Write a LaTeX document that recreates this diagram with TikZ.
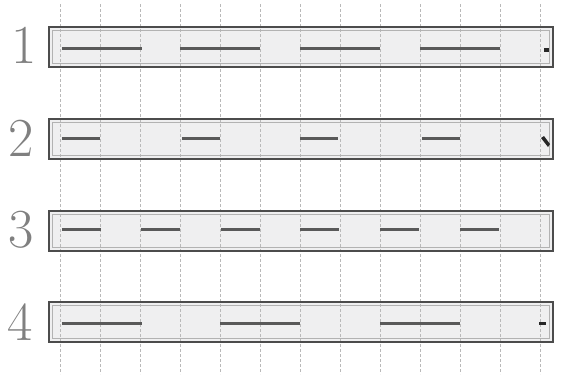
\documentclass[tikz,border=0pt]{standalone}
\begin{document}
\begin{tikzpicture}[x=1pt,y=-1pt,
  rowbox/.style={draw=black!70, line width=1.8pt, fill=blue!3!gray!12, minimum width=504pt, minimum height=40pt, inner sep=0pt, outer sep=0pt},
  innerline/.style={draw=black!30, line width=0.6pt},
  gridline/.style={draw=gray!55, line width=0.7pt, dash pattern=on 3pt off 2pt},
  dashbar/.style={draw=black!65, line width=3pt},
  rowlabel/.style={text=black!50, font=\fontsize{55}{55}\selectfont, inner sep=0pt},
  tick/.style={fill=black!85, draw=none}]
\useasboundingbox (0,0) rectangle (571,376);
% rows
\node[rowbox] (r1) at (301,47) {};
\node[rowbox] (r2) at (301,139) {};
\node[rowbox] (r3) at (301,231) {};
\node[rowbox] (r4) at (301,322) {};
% grid
\foreach \k in {0,...,12} {
  \draw[gridline] (60+40*\k,4) -- (60+40*\k,374);
}
% borders over the grid
\foreach \r in {r1,r2,r3,r4} {
  \draw[innerline] ([xshift=3.5pt,yshift=-3.5pt]\r.north west) rectangle ([xshift=-3.5pt,yshift=3.5pt]\r.south east);
  \draw[draw=black!70, line width=1.8pt] (\r.north west) rectangle (\r.south east);
}
% labels
\node[rowlabel] (l1) at (24,45) {1};
\node[rowlabel] (l2) at (21,138) {2};
\node[rowlabel] (l3) at (21,230) {3};
\node[rowlabel] (l4) at (20,322) {4};
% row 1 dashes
\foreach \a in {62,180,300,420} { \draw[dashbar] (\a,48) -- (\a+80,48); }
% row 2
\foreach \a in {62,182,300,422} { \draw[dashbar] (\a,138) -- (\a+38,138); }
% row 3
\foreach \a in {62,141,221,300,380,460} { \draw[dashbar] (\a,229) -- (\a+39,229); }
% row 4
\foreach \a in {62,220,380} { \draw[dashbar] (\a,323) -- (\a+80,323); }
% small marks
\fill[tick] (544,48) rectangle (549,52);
\fill[tick] (541,138) -- (544,136) -- (550,144) -- (548,147) -- cycle;
\fill[tick] (539,322) rectangle (546,325);
\end{tikzpicture}
\end{document}
